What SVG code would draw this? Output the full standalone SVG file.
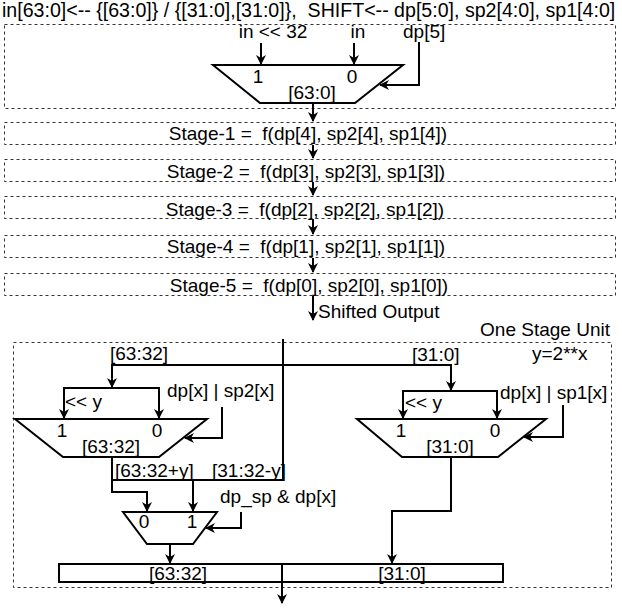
<svg xmlns="http://www.w3.org/2000/svg" width="622" height="608" viewBox="0 0 622 608">
<defs>
<marker id="ah" viewBox="0 0 10 10" refX="9" refY="5" markerWidth="5" markerHeight="5" orient="auto" markerUnits="strokeWidth">
<path d="M0,0 L10,5 L0,10 L3,5 z" fill="#000"/>
</marker>
<style>
text{font-family:"Liberation Sans",Arial,Helvetica,sans-serif;font-size:19px;fill:#000}
.m{text-anchor:middle}
.dash{fill:none;stroke:#333;stroke-width:1;stroke-dasharray:3 3}
.ln{fill:none;stroke:#000;stroke-width:2}
.ar{fill:none;stroke:#000;stroke-width:2;marker-end:url(#ah)}
.mux{fill:#fff;stroke:#000;stroke-width:2}
</style>
</defs>
<rect width="622" height="608" fill="#fff"/>
<text x="2" y="17" style="font-size:19.6px" xml:space="preserve">in[63:0]&lt;-- {[63:0]} / {[31:0],[31:0]},  SHIFT&lt;-- dp[5:0], sp2[4:0], sp1[4:0]</text>

<g id="top-mux-box">
<rect class="dash" x="4.5" y="24.5" width="611" height="84"/>
</g>
<g id="mux64">
<polygon class="mux" points="213,65 403,65 355,103 260,103"/>
<text class="m" x="258" y="83">1</text>
<text class="m" x="352" y="83">0</text>
<text class="m" x="312" y="99">[63:0]</text>
</g>
<text class="m" x="273" y="38">in &lt;&lt; 32</text>
<text class="m" x="358" y="38">in</text>
<text x="403" y="38">dp[5]</text>

<g id="stage1"><rect class="dash" x="4.5" y="122.5" width="611" height="22"/><text class="m" x="308" y="140" xml:space="preserve">Stage-1 =  f(dp[4], sp2[4], sp1[4])</text></g>
<g id="stage2"><rect class="dash" x="4.5" y="159.5" width="611" height="22"/><text class="m" x="306" y="178" xml:space="preserve">Stage-2 =  f(dp[3], sp2[3], sp1[3])</text></g>
<g id="stage3"><rect class="dash" x="4.5" y="196.5" width="611" height="22"/><text class="m" x="305" y="216" xml:space="preserve">Stage-3 =  f(dp[2], sp2[2], sp1[2])</text></g>
<g id="stage4"><rect class="dash" x="4.5" y="235.5" width="611" height="22"/><text class="m" x="306" y="253" xml:space="preserve">Stage-4 =  f(dp[1], sp2[1], sp1[1])</text></g>
<g id="stage5"><rect class="dash" x="4.5" y="273.5" width="611" height="22"/><text class="m" x="309" y="292" xml:space="preserve">Stage-5 =  f(dp[0], sp2[0], sp1[0])</text></g>
<text x="318" y="318">Shifted Output</text>

<g id="stage-unit">
<rect class="dash" x="13.5" y="342.5" width="598" height="245"/>
<text x="610" y="336" style="text-anchor:end">One Stage Unit</text>
<text x="532" y="360">y=2**x</text>
</g>
<g id="mux-hi">
<polygon class="mux" points="15,419 207,419 159,457 63,457"/>
<text class="m" x="62" y="437">1</text>
<text class="m" x="157" y="437">0</text>
<text class="m" x="111" y="453">[63:32]</text>
</g>
<g id="mux-lo">
<polygon class="mux" points="357,419 546,419 498,457 402,457"/>
<text class="m" x="401" y="437">1</text>
<text class="m" x="495" y="437">0</text>
<text class="m" x="450" y="453">[31:0]</text>
</g>
<g id="mux-sel">
<polygon class="mux" points="123,512 217,512 193,544 147,544"/>
<text class="m" x="144" y="528">0</text>
<text class="m" x="192" y="528">1</text>
</g>
<g id="out-bar">
<rect x="59" y="564" width="444" height="18" fill="#fff" stroke="#000" stroke-width="2"/>
<text class="m" x="178" y="580">[63:32]</text>
<text class="m" x="402" y="580">[31:0]</text>
</g>

<g id="labels">
<text x="110" y="360">[63:32]</text>
<text x="412" y="361">[31:0]</text>
<text x="65" y="408">&lt;&lt; y</text>
<text x="405" y="409">&lt;&lt; y</text>
<text x="167" y="397">dp[x] | sp2[x]</text>
<text x="500" y="399">dp[x] | sp1[x]</text>
<text x="115" y="477">[63:32+y]</text>
<text x="212" y="477">[31:32-y]</text>
<text x="220" y="503">dp_sp &amp; dp[x]</text>
</g>

<g id="connectors">
<path class="ar" d="M261,43 V64"/>
<path class="ar" d="M354,43 V64"/>
<path class="ar" d="M419,42 V85 H380"/>
<path class="ar" d="M313,103 V121"/>
<path class="ar" d="M313,145 V158"/>
<path class="ar" d="M313,182 V195"/>
<path class="ar" d="M313,219 V234"/>
<path class="ar" d="M313,258 V272"/>
<path class="ar" d="M313,296 V320"/>
<path class="ln" d="M283,339 V480 H112"/>
<path class="ar" d="M283,365 H112 V387"/>
<path class="ar" d="M283,365 H451 V390"/>
<path class="ar" d="M112,388 H64 V418"/>
<path class="ar" d="M112,388 H159 V418"/>
<path class="ar" d="M451,391 H403 V418"/>
<path class="ar" d="M451,391 H497 V418"/>
<path class="ar" d="M222,407 V438 H185"/>
<path class="ar" d="M563,405 V437 H524"/>
<path class="ar" d="M112,457 V492 H147 V511"/>
<path class="ar" d="M193,480 V511"/>
<path class="ar" d="M241,512 V528 H206"/>
<path class="ar" d="M170,544 V563"/>
<path class="ar" d="M451,457 V511 H392 V563"/>
<path class="ar" d="M282,564 V603"/>
</g>
</svg>
